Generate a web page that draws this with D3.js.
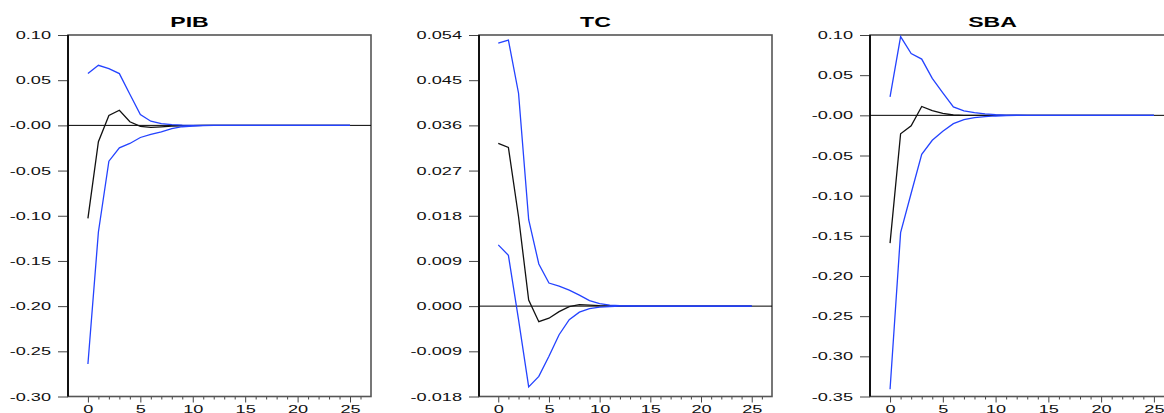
<!DOCTYPE html>
<meta charset="utf-8">
<style>
body { margin: 0; background: #fff; }
svg { display: block; }
.axis text { font: 11px "Liberation Sans", Arial, sans-serif; fill: #111; }
.axis line { stroke: #444; }
.title { font: bold 14px "Liberation Sans", Arial, sans-serif; fill: #000; }
</style>
<body>
<script src="https://cdn.jsdelivr.net/npm/d3@7/dist/d3.min.js"></script>
<script>
// horizon (periods after the shock)
var periods = [0,1,2,3,4,5,6,7,8,9,10,11,12,13,14,15,16,17,18,19,20,21,22,23,24,25];

// PIB
var pibResp  = [-0.103,-0.018,0.011,0.0168,0.004,-0.001,-0.0023,-0.0016,-0.0008,-0.0004,-0.0002,-0.0001,0,0,0,0,0,0,0,0,0,0,0,0,0,0];
var pibUpper = [0.0575,0.0665,0.0628,0.0573,0.0345,0.012,0.0046,0.002,0.0008,0.0003,0.0001,0.00005,0,0,0,0,0,0,0,0,0,0,0,0,0,0];
var pibLower = [-0.264,-0.118,-0.0396,-0.0248,-0.020,-0.0134,-0.010,-0.0071,-0.0035,-0.0015,-0.0007,-0.0003,-0.0001,0,0,0,0,0,0,0,0,0,0,0,0,0];
var pibTicks  = [0.10,0.05,0,-0.05,-0.10,-0.15,-0.20,-0.25,-0.30];
var pibLabels = ["0.10","0.05","-0.00","-0.05","-0.10","-0.15","-0.20","-0.25","-0.30"];

// TC
var tcResp  = [0.0324,0.0316,0.0178,0.0012,-0.0031,-0.0024,-0.0011,-0.0001,0.0003,0.0002,0.0001,0.00005,0,0,0,0,0,0,0,0,0,0,0,0,0,0];
var tcUpper = [0.0524,0.0530,0.0424,0.0172,0.0084,0.0046,0.0040,0.0032,0.0022,0.0011,0.0005,0.0002,0.0001,0.00005,0,0,0,0,0,0,0,0,0,0,0,0];
var tcLower = [0.0122,0.0101,-0.0027,-0.0161,-0.0140,-0.0100,-0.0057,-0.0027,-0.0012,-0.0005,-0.0002,-0.0001,0,0,0,0,0,0,0,0,0,0,0,0,0,0];
var tcTicks  = [0.054,0.045,0.036,0.027,0.018,0.009,0,-0.009,-0.018];
var tcLabels = ["0.054","0.045","0.036","0.027","0.018","0.009","0.000","-0.009","-0.018"];

// SBA
var sbaResp  = [-0.159,-0.023,-0.013,0.011,0.0058,0.0023,0.0004,0,0,0,0,0,0,0,0,0,0,0,0,0,0,0,0,0,0,0];
var sbaUpper = [0.023,0.098,0.077,0.070,0.046,0.028,0.0104,0.0056,0.0033,0.0019,0.0008,0.0003,0.0001,0,0,0,0,0,0,0,0,0,0,0,0,0];
var sbaLower = [-0.341,-0.146,-0.097,-0.0485,-0.031,-0.0199,-0.0104,-0.0054,-0.0029,-0.0017,-0.0008,-0.0003,-0.0001,0,0,0,0,0,0,0,0,0,0,0,0,0];
var sbaTicks  = [0.10,0.05,0,-0.05,-0.10,-0.15,-0.20,-0.25,-0.30,-0.35];
var sbaLabels = ["0.10","0.05","-0.00","-0.05","-0.10","-0.15","-0.20","-0.25","-0.30","-0.35"];

var xMajor = [0,5,10,15,20,25];
var xMinor = [1,2,3,4,6,7,8,9,11,12,13,14,16,17,18,19,21,22,23,24,26];

var panels = [
  {title: "PIB", resp: pibResp, upper: pibUpper, lower: pibLower, ticks: pibTicks, labels: pibLabels, left: 68,  width: 303},
  {title: "TC",  resp: tcResp,  upper: tcUpper,  lower: tcLower,  ticks: tcTicks,  labels: tcLabels,  left: 479, width: 293},
  {title: "SBA", resp: sbaResp, upper: sbaUpper, lower: sbaLower, ticks: sbaTicks, labels: sbaLabels, left: 870, width: 305}
];

var W = 1164, H = 413, plotTop = 35, plotBottom = 396.5;
var sx = 1.65; // the reference text is stretched sideways
var blue = "#2443ff";

var svg = d3.select("body").append("svg")
    .attr("width", W)
    .attr("height", H);

panels.forEach(function(p) {
  var x = d3.scaleLinear().domain([-1.9, 27]).range([p.left, p.left + p.width]);
  var y = d3.scaleLinear().domain(d3.extent(p.ticks)).range([plotBottom, plotTop]);

  var g = svg.append("g");

  // y axis
  var ya = g.append("g")
      .attr("class", "axis")
      .attr("transform", "translate(" + p.left + ",0)")
      .call(d3.axisLeft(y).tickValues(p.ticks)
        .tickFormat(function(d, i) { return p.labels[i]; })
        .tickSize(10));
  ya.select(".domain").remove();
  ya.selectAll("text")
      .attr("x", -17 / sx)
      .attr("transform", "scale(" + sx + ",1)");

  // x axis, major and minor ticks
  var xa = g.append("g")
      .attr("class", "axis")
      .attr("transform", "translate(0," + plotBottom + ")")
      .call(d3.axisBottom(x).tickValues(xMajor).tickSize(6).tickPadding(3));
  xa.select(".domain").remove();
  xa.selectAll(".tick text").attr("transform", "scale(" + sx + ",1)");

  var xm = g.append("g")
      .attr("class", "axis")
      .attr("transform", "translate(0," + plotBottom + ")")
      .call(d3.axisBottom(x).tickValues(xMinor).tickSize(3).tickFormat(""));
  xm.select(".domain").remove();

  // frame
  g.append("rect")
      .attr("x", p.left)
      .attr("y", plotTop)
      .attr("width", p.width)
      .attr("height", plotBottom - plotTop)
      .attr("fill", "none")
      .attr("stroke", "#555")
      .attr("stroke-width", 1.6);
  g.append("line")
      .attr("x1", p.left).attr("x2", p.left)
      .attr("y1", plotTop).attr("y2", plotBottom)
      .attr("stroke", "#111")
      .attr("stroke-width", 2);

  // zero line
  g.append("line")
      .attr("x1", p.left).attr("x2", p.left + p.width)
      .attr("y1", y(0)).attr("y2", y(0))
      .attr("stroke", "#000")
      .attr("stroke-width", 1);

  var line = d3.line()
      .x(function(d, i) { return x(periods[i]); })
      .y(function(d) { return y(d); });

  g.append("path")
      .datum(p.resp)
      .attr("fill", "none")
      .attr("stroke", "#111")
      .attr("stroke-width", 1.3)
      .attr("d", line);

  [p.upper, p.lower].forEach(function(s) {
    g.append("path")
        .datum(s)
        .attr("fill", "none")
        .attr("stroke", blue)
        .attr("stroke-width", 1.3)
        .attr("d", line);
  });

  // title
  g.append("text")
      .attr("class", "title")
      .attr("text-anchor", "middle")
      .attr("transform", "translate(" + (p.left + p.width / 2 - 30) + ",27) scale(" + sx + ",1)")
      .text(p.title);
});
</script>
